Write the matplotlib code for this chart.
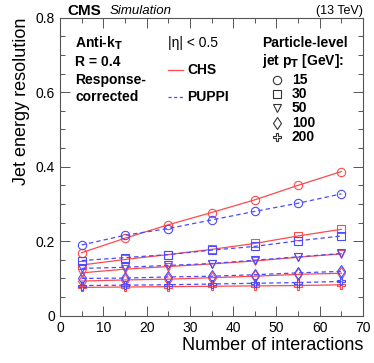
import matplotlib
matplotlib.use("Agg")
import matplotlib.pyplot as plt
from matplotlib.ticker import MultipleLocator
from matplotlib.lines import Line2D

plt.rcParams['font.family'] = ['Liberation Sans', 'DejaVu Sans']

npu = [5, 15, 25, 35, 45, 55, 65]
pt_bins = ["15", "30", "50", "100", "200"]
markers = ['o', 's', 'v', 'd', 'P']

chs = {
    "15":  [0.169, 0.208, 0.244, 0.277, 0.311, 0.350, 0.387],
    "30":  [0.136, 0.151, 0.164, 0.178, 0.194, 0.214, 0.232],
    "50":  [0.115, 0.125, 0.132, 0.139, 0.147, 0.157, 0.166],
    "100": [0.093, 0.096, 0.098, 0.102, 0.106, 0.111, 0.114],
    "200": [0.076, 0.077, 0.078, 0.079, 0.080, 0.081, 0.083],
}
puppi = {
    "15":  [0.190, 0.216, 0.234, 0.257, 0.280, 0.302, 0.327],
    "30":  [0.148, 0.156, 0.164, 0.176, 0.186, 0.201, 0.214],
    "50":  [0.127, 0.130, 0.135, 0.140, 0.149, 0.158, 0.167],
    "100": [0.100, 0.101, 0.104, 0.106, 0.110, 0.115, 0.119],
    "200": [0.081, 0.082, 0.083, 0.085, 0.087, 0.089, 0.092],
}

red = '#ff4a4a'
blue = '#4a4aff'

fig = plt.figure(figsize=(3.74, 3.63), dpi=100)
ax = fig.add_axes([60/374, 1-315.7/363, 303/374, 298/363])

for pt, m in zip(pt_bins, markers):
    ax.plot(npu, chs[pt], color=red, lw=0.9, marker=m, ms=6, mfc='none',
            mec=red, mew=0.8)
    ax.plot(npu, puppi[pt], color=blue, lw=0.9, ls=(0, (3.5, 2.5)), marker=m,
            ms=6, mfc='none', mec=blue, mew=0.8)

ax.set_xlim(0, 70)
ax.set_ylim(0, 0.8)
ax.xaxis.set_major_locator(MultipleLocator(10))
ax.xaxis.set_minor_locator(MultipleLocator(5))
ax.yaxis.set_major_locator(MultipleLocator(0.2))
ax.yaxis.set_minor_locator(MultipleLocator(0.05))
ax.tick_params(which='both', direction='in', top=True, right=True, labelsize=10,
               color='#555555')
ax.tick_params(which='major', length=7, width=0.7)
ax.tick_params(which='minor', length=3.5, width=0.7)
ax.set_xticks(range(0, 71, 10))
ax.set_xticklabels([str(v) for v in range(0, 71, 10)])
ax.set_yticks([0, 0.2, 0.4, 0.6, 0.8])
ax.set_yticklabels(['0', '0.2', '0.4', '0.6', '0.8'])
for s in ax.spines.values():
    s.set_color('#555555')
    s.set_linewidth(0.8)

ax.set_xlabel('Number of interactions', fontsize=13, loc='right', labelpad=2)
ax.set_ylabel('Jet energy resolution', fontsize=13, loc='top', labelpad=4)

def fx(px):
    return px / 374
def fy(py):
    return 1 - py / 363

fig.text(fx(67), fy(11), 'CMS', fontsize=11, fontweight='bold', va='center')
fig.text(fx(110), fy(11), 'Simulation', fontsize=9.5, style='italic', va='center')
fig.text(fx(363), fy(11), '(13 TeV)', fontsize=9, va='center', ha='right')

tb = dict(fontsize=10, fontweight='bold', va='center')
fig.text(fx(75), fy(43), r'Anti-k$_\mathbf{T}$', **tb)
fig.text(fx(75), fy(62), 'R = 0.4', **tb)
fig.text(fx(75), fy(80), 'Response-', **tb)
fig.text(fx(75), fy(97), 'corrected', **tb)

fig.text(fx(168), fy(43), r'|η| < 0.5', fontsize=10, va='center')
fig.add_artist(Line2D([fx(168), fx(183)], [fy(70), fy(70)], color=red, lw=0.9))
fig.add_artist(Line2D([fx(168), fx(183)], [fy(97), fy(97)], color=blue, lw=0.9,
                      ls=(0, (2.5, 2))))
fig.text(fx(187), fy(70), 'CHS', **tb)
fig.text(fx(187), fy(97), 'PUPPI', **tb)

fig.text(fx(262), fy(43), 'Particle-level', **tb)
fig.text(fx(262), fy(61), r'jet p$_\mathbf{T}$ [GeV]:', **tb)
ys = [80, 94, 108, 123, 137]
for pt, m, yy in zip(pt_bins, markers, ys):
    fig.add_artist(Line2D([fx(277)], [fy(yy)], marker=m, ms=6, mfc='none',
                          mec='#333333', mew=0.8, ls='none'))
    fig.text(fx(292), fy(yy), pt, **tb)

fig.savefig('out.png', dpi=100)
